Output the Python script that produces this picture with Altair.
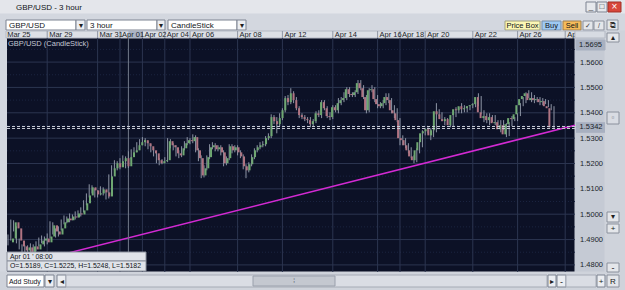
import altair as alt
import pandas as pd

symbol = "GBP/USD"
timeframe = "3 hour"
chart_type = "CandleStick"

opens = [
    1.4889, 1.4904, 1.4968, 1.4944, 1.4896, 1.4873, 1.4857, 1.4869, 1.4849, 1.4873,
    1.4861, 1.4881, 1.4896, 1.4904, 1.4889, 1.4912, 1.4956, 1.4932, 1.4920, 1.4944,
    1.4968, 1.4983, 1.4976, 1.4991, 1.4987, 1.5003, 1.4999, 1.5015, 1.5043, 1.5074,
    1.5106, 1.5094, 1.5078, 1.5082, 1.5098, 1.5086, 1.5070, 1.5149, 1.5181, 1.5201,
    1.5185, 1.5209, 1.5221, 1.5189, 1.5225, 1.5244, 1.5252, 1.5272, 1.5284, 1.5292,
    1.5280, 1.5268, 1.5252, 1.5240, 1.5213, 1.5201, 1.5209, 1.5213, 1.5288, 1.5272,
    1.5264, 1.5240, 1.5232, 1.5260, 1.5280, 1.5292, 1.5288, 1.5304, 1.5252, 1.5221,
    1.5153, 1.5181, 1.5225, 1.5264, 1.5272, 1.5256, 1.5264, 1.5244, 1.5201, 1.5221,
    1.5268, 1.5252, 1.5264, 1.5244, 1.5228, 1.5189, 1.5173, 1.5197, 1.5225, 1.5252,
    1.5264, 1.5272, 1.5276, 1.5300, 1.5308, 1.5383, 1.5367, 1.5355, 1.5379, 1.5410,
    1.5458, 1.5442, 1.5477, 1.5450, 1.5418, 1.5391, 1.5383, 1.5375, 1.5371, 1.5355,
    1.5367, 1.5398, 1.5391, 1.5442, 1.5418, 1.5387, 1.5383, 1.5422, 1.5410, 1.5438,
    1.5450, 1.5458, 1.5493, 1.5474, 1.5470, 1.5481, 1.5517, 1.5497, 1.5462, 1.5410,
    1.5489, 1.5493, 1.5454, 1.5434, 1.5426, 1.5438, 1.5462, 1.5450, 1.5410, 1.5398,
    1.5371, 1.5300, 1.5292, 1.5272, 1.5252, 1.5228, 1.5213, 1.5252, 1.5284, 1.5319,
    1.5327, 1.5335, 1.5311, 1.5331, 1.5406, 1.5394, 1.5375, 1.5367, 1.5375, 1.5351,
    1.5391, 1.5414, 1.5410, 1.5426, 1.5414, 1.5418, 1.5426, 1.5430, 1.5434, 1.5462,
    1.5402, 1.5379, 1.5387, 1.5371, 1.5383, 1.5359, 1.5363, 1.5335, 1.5351, 1.5315,
    1.5355, 1.5379, 1.5375, 1.5394, 1.5430, 1.5454, 1.5466, 1.5477, 1.5450, 1.5458,
    1.5450, 1.5454, 1.5442, 1.5446, 1.5426, 1.5418,
]
highs = [
    1.4920, 1.4979, 1.4976, 1.4952, 1.4904, 1.4881, 1.4877, 1.4877, 1.4885, 1.4881,
    1.4893, 1.4908, 1.4916, 1.4912, 1.4924, 1.4972, 1.4968, 1.4944, 1.4952, 1.4979,
    1.4995, 1.4991, 1.5003, 1.4999, 1.5011, 1.5015, 1.5027, 1.5055, 1.5082, 1.5118,
    1.5114, 1.5102, 1.5094, 1.5110, 1.5106, 1.5094, 1.5157, 1.5193, 1.5213, 1.5209,
    1.5221, 1.5232, 1.5228, 1.5248, 1.5256, 1.5264, 1.5284, 1.5296, 1.5304, 1.5300,
    1.5288, 1.5276, 1.5260, 1.5248, 1.5221, 1.5217, 1.5225, 1.5300, 1.5296, 1.5280,
    1.5272, 1.5252, 1.5268, 1.5288, 1.5304, 1.5300, 1.5315, 1.5311, 1.5260, 1.5232,
    1.5193, 1.5232, 1.5276, 1.5284, 1.5280, 1.5272, 1.5272, 1.5252, 1.5228, 1.5276,
    1.5276, 1.5272, 1.5272, 1.5252, 1.5236, 1.5197, 1.5205, 1.5236, 1.5260, 1.5272,
    1.5284, 1.5288, 1.5308, 1.5319, 1.5394, 1.5391, 1.5383, 1.5398, 1.5418, 1.5466,
    1.5470, 1.5497, 1.5485, 1.5462, 1.5426, 1.5398, 1.5391, 1.5383, 1.5383, 1.5375,
    1.5406, 1.5410, 1.5450, 1.5450, 1.5426, 1.5402, 1.5430, 1.5430, 1.5458, 1.5462,
    1.5481, 1.5501, 1.5501, 1.5481, 1.5489, 1.5529, 1.5529, 1.5509, 1.5470, 1.5497,
    1.5509, 1.5501, 1.5470, 1.5442, 1.5450, 1.5477, 1.5477, 1.5458, 1.5430, 1.5418,
    1.5379, 1.5311, 1.5300, 1.5280, 1.5264, 1.5232, 1.5260, 1.5292, 1.5331, 1.5339,
    1.5343, 1.5339, 1.5339, 1.5438, 1.5414, 1.5402, 1.5383, 1.5379, 1.5383, 1.5398,
    1.5422, 1.5422, 1.5438, 1.5430, 1.5426, 1.5430, 1.5438, 1.5442, 1.5477, 1.5466,
    1.5410, 1.5398, 1.5398, 1.5391, 1.5391, 1.5371, 1.5371, 1.5371, 1.5359, 1.5363,
    1.5387, 1.5383, 1.5398, 1.5438, 1.5462, 1.5481, 1.5489, 1.5481, 1.5470, 1.5462,
    1.5462, 1.5458, 1.5454, 1.5450, 1.5434, 1.5426,
]
lows = [
    1.4877, 1.4896, 1.4932, 1.4885, 1.4861, 1.4837, 1.4845, 1.4833, 1.4841, 1.4849,
    1.4853, 1.4873, 1.4885, 1.4873, 1.4881, 1.4904, 1.4920, 1.4908, 1.4912, 1.4936,
    1.4960, 1.4964, 1.4968, 1.4976, 1.4979, 1.4987, 1.4991, 1.5007, 1.5035, 1.5066,
    1.5082, 1.5066, 1.5066, 1.5074, 1.5074, 1.5058, 1.5062, 1.5142, 1.5173, 1.5173,
    1.5177, 1.5201, 1.5181, 1.5182, 1.5217, 1.5232, 1.5244, 1.5264, 1.5272, 1.5268,
    1.5256, 1.5244, 1.5228, 1.5201, 1.5193, 1.5197, 1.5201, 1.5205, 1.5260, 1.5252,
    1.5228, 1.5221, 1.5225, 1.5252, 1.5272, 1.5276, 1.5280, 1.5244, 1.5209, 1.5142,
    1.5145, 1.5173, 1.5217, 1.5256, 1.5248, 1.5248, 1.5232, 1.5189, 1.5193, 1.5213,
    1.5240, 1.5244, 1.5232, 1.5221, 1.5177, 1.5142, 1.5165, 1.5189, 1.5217, 1.5244,
    1.5256, 1.5264, 1.5268, 1.5292, 1.5300, 1.5355, 1.5319, 1.5347, 1.5371, 1.5402,
    1.5430, 1.5434, 1.5438, 1.5410, 1.5379, 1.5375, 1.5367, 1.5359, 1.5343, 1.5347,
    1.5359, 1.5383, 1.5379, 1.5410, 1.5379, 1.5371, 1.5375, 1.5402, 1.5398, 1.5430,
    1.5442, 1.5450, 1.5462, 1.5462, 1.5462, 1.5474, 1.5489, 1.5454, 1.5398, 1.5402,
    1.5481, 1.5442, 1.5418, 1.5418, 1.5418, 1.5430, 1.5438, 1.5398, 1.5379, 1.5363,
    1.5272, 1.5272, 1.5260, 1.5240, 1.5221, 1.5201, 1.5205, 1.5240, 1.5264, 1.5311,
    1.5319, 1.5292, 1.5304, 1.5323, 1.5387, 1.5367, 1.5351, 1.5359, 1.5343, 1.5347,
    1.5383, 1.5398, 1.5398, 1.5402, 1.5402, 1.5410, 1.5418, 1.5422, 1.5426, 1.5394,
    1.5363, 1.5359, 1.5351, 1.5363, 1.5351, 1.5343, 1.5323, 1.5331, 1.5304, 1.5308,
    1.5347, 1.5367, 1.5367, 1.5387, 1.5426, 1.5438, 1.5458, 1.5442, 1.5438, 1.5442,
    1.5430, 1.5430, 1.5434, 1.5422, 1.5410, 1.5335,
]
closes = [
    1.4904, 1.4968, 1.4944, 1.4896, 1.4873, 1.4857, 1.4869, 1.4849, 1.4873, 1.4861,
    1.4881, 1.4896, 1.4904, 1.4889, 1.4912, 1.4956, 1.4932, 1.4920, 1.4944, 1.4968,
    1.4983, 1.4976, 1.4991, 1.4987, 1.5003, 1.4999, 1.5015, 1.5043, 1.5074, 1.5106,
    1.5094, 1.5078, 1.5082, 1.5098, 1.5086, 1.5070, 1.5149, 1.5181, 1.5201, 1.5185,
    1.5209, 1.5221, 1.5189, 1.5225, 1.5244, 1.5252, 1.5272, 1.5284, 1.5292, 1.5280,
    1.5268, 1.5252, 1.5240, 1.5213, 1.5201, 1.5209, 1.5213, 1.5288, 1.5272, 1.5264,
    1.5240, 1.5232, 1.5260, 1.5280, 1.5292, 1.5288, 1.5304, 1.5252, 1.5221, 1.5153,
    1.5181, 1.5225, 1.5264, 1.5272, 1.5256, 1.5264, 1.5244, 1.5201, 1.5221, 1.5268,
    1.5252, 1.5264, 1.5244, 1.5228, 1.5189, 1.5173, 1.5197, 1.5225, 1.5252, 1.5264,
    1.5272, 1.5276, 1.5300, 1.5308, 1.5383, 1.5367, 1.5355, 1.5379, 1.5410, 1.5458,
    1.5442, 1.5477, 1.5450, 1.5418, 1.5391, 1.5383, 1.5375, 1.5371, 1.5355, 1.5367,
    1.5398, 1.5391, 1.5442, 1.5418, 1.5387, 1.5383, 1.5422, 1.5410, 1.5438, 1.5450,
    1.5458, 1.5493, 1.5474, 1.5470, 1.5481, 1.5517, 1.5497, 1.5462, 1.5410, 1.5489,
    1.5493, 1.5454, 1.5434, 1.5426, 1.5438, 1.5462, 1.5450, 1.5410, 1.5398, 1.5371,
    1.5300, 1.5292, 1.5272, 1.5252, 1.5228, 1.5213, 1.5252, 1.5284, 1.5319, 1.5327,
    1.5335, 1.5311, 1.5331, 1.5406, 1.5394, 1.5375, 1.5367, 1.5375, 1.5351, 1.5391,
    1.5414, 1.5410, 1.5426, 1.5414, 1.5418, 1.5426, 1.5430, 1.5434, 1.5462, 1.5402,
    1.5379, 1.5387, 1.5371, 1.5383, 1.5359, 1.5363, 1.5335, 1.5351, 1.5315, 1.5355,
    1.5379, 1.5375, 1.5394, 1.5430, 1.5454, 1.5466, 1.5477, 1.5450, 1.5458, 1.5450,
    1.5454, 1.5442, 1.5446, 1.5426, 1.5418, 1.5342,
]

date_labels = ["Mar 25", "Mar 29", "Mar 31", "Apr 01", "Apr 02", "Apr 04", "Apr 06", "Apr 08",
               "Apr 12", "Apr 14", "Apr 16", "Apr 18", "Apr 20", "Apr 22", "Apr 26", "Apr 28"]
date_bars = [-1.0, 14, 32, 40, 48, 56, 65, 82, 98, 116, 132, 140, 149, 166, 182, 199]
price_ticks = [1.48, 1.49, 1.50, 1.51, 1.52, 1.53, 1.54, 1.55, 1.56]
minor_ticks = [1.485, 1.495, 1.505, 1.515, 1.525, 1.535, 1.545, 1.555, 1.565]
top_price = 1.5695
bottom_price = 1.4772
trend_bars = [-0.36, 202.5]
trend_prices = [1.4786, 1.5351]
cursor_bar = 43
cursor_label = "Apr 01 ' 08:00"
cursor_day_end = 47.9

# ---------------- layout -----------------
PAD_L, PAD_T, PAD_R, PAD_B = 7, 38, 50, 18
W, H = 568, 234
FONT = "Liberation Sans"
xs = alt.Scale(domain=[-0.357, 202.5], nice=False, zero=False)
ys = alt.Scale(domain=[bottom_price, top_price], nice=False, zero=False)

# ---------------- chart data -------------
n = len(closes)
candles = pd.DataFrame({
    "k": list(range(n)), "open": opens, "high": highs, "low": lows, "close": closes,
    "dir": ["up" if c >= o else "down" for o, c in zip(opens, closes)],
})
dates = pd.DataFrame({"k": date_bars, "label": date_labels})
seps = dates.iloc[1:]
major = pd.DataFrame({"p": price_ticks})
minor = pd.DataFrame({"p": minor_ticks})
trend = pd.DataFrame({"k": trend_bars, "p": trend_prices})
cursor = pd.DataFrame({"k": [cursor_bar], "k2": [cursor_day_end]})
last = pd.DataFrame({"p": [closes[-1]], "lo": [closes[-1] - 0.0021], "hi": [closes[-1] + 0.0021],
                     "label": [f"{closes[-1]:.4f}"]})

X = lambda f: alt.X(f, type="quantitative", scale=xs, axis=None)
Y = lambda f: alt.Y(f, type="quantitative", scale=ys, axis=None)

# ---------------- chrome (window decoration, pixel layout) -------------
chrome_rects = [
    (0, 625, 0, 14, "#e4e6eb", "#e4e6eb"),
    (0, 625, 14, 31, "#d3d7df", "#d3d7df"),
    (6, 76, 20, 30, "#ffffff", "#7d8391"),
    (76, 85, 20, 30, "#eceef2", "#7d8391"),
    (87, 157, 20, 30, "#ffffff", "#7d8391"),
    (157, 165, 20, 30, "#eceef2", "#7d8391"),
    (168, 237, 20, 30, "#ffffff", "#7d8391"),
    (237, 246, 20, 30, "#eceef2", "#7d8391"),
    (505, 540, 21, 30, "#fcf7b4", "#a2a27e"),
    (542, 561, 21, 30, "#9ec9f3", "#7890a8"),
    (563, 581, 21, 30, "#f6bb5a", "#a08050"),
    (583, 593, 21, 30, "#e4e6ea", "#8a909c"),
    (594, 604, 21, 30, "#e4e6ea", "#8a909c"),
    (607, 618, 20, 30, "#e4e6ea", "#8a909c"),
    (586, 596, 2, 12, "#e6e8ec", "#7d8391"),
    (597, 607, 2, 12, "#e6e8ec", "#7d8391"),
    (608, 621, 2, 12, "#d8473b", "#a03028"),
    (6, 575, 31, 38, "#dde0e6", "#b4b9c4"),
    (575, 605, 38, 272, "#c5cad4", "#c5cad4"),
    (605, 625, 31, 290, "#cfd3db", "#cfd3db"),
    (607, 619, 33, 42, "#e4e6ea", "#8a909c"),
    (607, 619, 112, 124, "#d9dce3", "#8a909c"),
    (607, 619, 212, 222, "#e4e6ea", "#8a909c"),
    (607, 619, 224, 233, "#e4e6ea", "#8a909c"),
    (607, 619, 263, 272, "#e4e6ea", "#8a909c"),
    (607, 619, 275, 287, "#e4e6ea", "#8a909c"),
    (0, 605, 272, 290, "#cfd3db", "#cfd3db"),
    (7, 44, 275, 287, "#ffffff", "#7d8391"),
    (45, 54, 275, 287, "#eceef2", "#7d8391"),
    (57, 66, 275, 287, "#eceef2", "#7d8391"),
    (66, 547, 275, 287, "#dadde4", "#a6abb6"),
    (253, 335, 276, 286, "#c4c8d0", "#9aa0ac"),
    (548, 556, 275, 287, "#eceef2", "#7d8391"),
    (557, 566, 275, 287, "#eceef2", "#7d8391"),
    (566, 596, 275, 287, "#dadde4", "#a6abb6"),
    (597, 605, 275, 287, "#eceef2", "#7d8391"),
    (576, 605, 40, 50, "#a8b0c0", "#a8b0c0"),
]
overlay_rects = [
    (575, 605, 31, 38, "#d7dbe2", "#b4b9c4"),
    (7, 146, 252, 261, "#e0e3e9", "#8a909c"),
    (7, 146, 261, 271, "#e0e3e9", "#8a909c"),
]
ohlc_text = (f"O={opens[cursor_bar]:.4f}, C={closes[cursor_bar]:.4f}, "
             f"H={highs[cursor_bar]:.4f}, L={lows[cursor_bar]:.4f}")
texts_left = [
    (16, 7.5, f"{symbol} - {timeframe}", 8, "#101418"),
    (9, 25.5, symbol, 8, "#101418"),
    (90, 25.5, timeframe, 8, "#101418"),
    (171, 25.5, chart_type, 8, "#101418"),
    (9, 281.5, "Add Study", 6.9, "#101418"),
]
texts_center = [
    (522.5, 25.5, "Price Box", 7.5, "#101418"),
    (551.5, 25.5, "Buy", 7.5, "#101418"),
    (572, 25.5, "Sell", 7.5, "#101418"),
    (80.5, 25.5, "▾", 8, "#202020"),
    (161, 25.5, "▾", 8, "#202020"),
    (241.5, 25.5, "▾", 8, "#202020"),
    (49.5, 281.5, "▾", 8, "#202020"),
    (61.5, 281.5, "◂", 8, "#202020"),
    (552, 281.5, "▸", 8, "#202020"),
    (561.5, 281.5, "-", 9, "#202020"),
    (601, 281.5, "+", 8, "#202020"),
    (613, 281.5, "R", 8, "#202020"),
    (613, 37.5, "▴", 8, "#202020"),
    (613, 217, "▾", 8, "#202020"),
    (613, 228.5, "+", 8, "#202020"),
    (613, 267.5, "-", 9, "#202020"),
    (294, 281, "⁞", 8, "#707680"),
    (613, 118, "▫", 8, "#707680"),
    (591, 7, "_", 8, "#303030"),
    (602, 7, "□", 8, "#303030"),
    (614.5, 7, "×", 10, "#ffffff"),
    (588, 25.5, "✓", 7, "#404040"),
    (599, 25.5, "/", 7, "#404040"),
    (612.5, 25.5, "⧉", 8, "#303030"),
    (590.5, 45, f"{top_price:.4f}", 7.5, "#1b1f29"),
]
tip_texts = [
    (10, 256.5, cursor_label, 6.9, "#101418"),
    (10, 266, ohlc_text, 6.9, "#101418"),
]


def rect_df(rows):
    return pd.DataFrame([{"x": a - PAD_L, "x2": b - PAD_L, "y": c - PAD_T, "y2": d - PAD_T,
                          "fill": f, "stroke": s} for a, b, c, d, f, s in rows])


def text_df(rows):
    return pd.DataFrame([{"x": a - PAD_L, "y": b - PAD_T, "t": t, "fs": fs, "c": c}
                         for a, b, t, fs, c in rows])


def rect_layer(rows):
    return alt.Chart(rect_df(rows)).mark_rect(strokeWidth=1).encode(
        x=alt.X("x:Q", scale=None, axis=None), x2="x2:Q",
        y=alt.Y("y:Q", scale=None, axis=None), y2="y2:Q",
        fill=alt.Fill("fill:N", scale=None, legend=None),
        stroke=alt.Stroke("stroke:N", scale=None, legend=None),
    )


def text_layer(rows, align):
    return alt.Chart(text_df(rows)).mark_text(align=align, baseline="middle", font=FONT).encode(
        x=alt.X("x:Q", scale=None, axis=None),
        y=alt.Y("y:Q", scale=None, axis=None),
        text="t:N",
        size=alt.Size("fs:Q", scale=None, legend=None),
        color=alt.Color("c:N", scale=None, legend=None),
    )


chrome_bg = rect_layer(chrome_rects)
chrome_txt_l = text_layer(texts_left, "left")
chrome_txt_c = text_layer(texts_center, "center")
overlay = rect_layer(overlay_rects)
tip_txt = text_layer(tip_texts, "left")

# ---------------- plot layers -------------
grid_minor = alt.Chart(minor).mark_rule(color="#1b2440", strokeDash=[1, 2], strokeWidth=1).encode(y=Y("p"))
grid_major = alt.Chart(major).mark_rule(color="#2c3550", strokeWidth=1).encode(y=Y("p"))
grid_vert = alt.Chart(seps).mark_rule(color="#2c3550", strokeWidth=1).encode(x=X("k"))

day_hl = alt.Chart(cursor).mark_rect(color="#aab3c6").encode(
    x=X("k"), x2="k2", y=alt.value(-7), y2=alt.value(0))
sep_ticks = alt.Chart(seps).mark_rule(color="#9097a4").encode(
    x=X("k"), y=alt.value(-7), y2=alt.value(0))
date_txt = alt.Chart(dates).mark_text(align="left", baseline="middle", dx=2, font=FONT,
                                      fontSize=7.5, color="#1b1f29").encode(
    x=X("k"), y=alt.value(-3.3), text="label:N")

trend_line = alt.Chart(trend).mark_line(color="#d32ad3", strokeWidth=1.5).encode(x=X("k"), y=Y("p"))
cross = alt.Chart(cursor).mark_rule(color="#737a8a", strokeWidth=1).encode(x=X("k"))

wicks = alt.Chart(candles).mark_rule(color="#8f96a6", strokeWidth=1).encode(
    x=X("k"), y=Y("low"), y2="high")
bodies = alt.Chart(candles).mark_bar(size=2).encode(
    x=X("k"),
    y=alt.Y("open:Q", scale=ys, axis=alt.Axis(
        orient="right", values=price_ticks, format=".4f", labelFont=FONT, labelFontSize=7.5,
        labelColor="#1b1f29", ticks=False, tickSize=0, domain=False, grid=False,
        labelPadding=16, labelAlign="center", labelBaseline="middle", title=None,
        zindex=1, labelOverlap=False, labelFlush=False)),
    y2="close",
    color=alt.Color("dir:N", scale=alt.Scale(domain=["up", "down"], range=["#6fa872", "#b07482"]),
                    legend=None),
)

price_a = alt.Chart(last).mark_rule(color="#c9cdd8", strokeDash=[3, 2], strokeWidth=1, yOffset=-1).encode(y=Y("p"))
price_b = alt.Chart(last).mark_rule(color="#c9cdd8", strokeDash=[3, 2], strokeWidth=1, yOffset=1).encode(y=Y("p"))
price_box = alt.Chart(last).mark_rect(color="#a8b0c0").encode(
    x=alt.value(569), x2=alt.value(598), y=Y("hi"), y2="lo")
price_txt = alt.Chart(last).mark_text(align="center", baseline="middle", font=FONT, fontSize=7.5,
                                      color="#1b1f29").encode(
    x=alt.value(584), y=Y("p"), text="label:N")

series_txt = alt.Chart(pd.DataFrame({"t": [f"{symbol} ({chart_type})"]})).mark_text(
    align="left", baseline="middle", font=FONT, fontSize=7.5, color="#c3c7d3").encode(
    x=alt.value(1), y=alt.value(6), text="t:N")

chart = alt.layer(
    chrome_bg, chrome_txt_l, chrome_txt_c,
    grid_minor, grid_major, grid_vert,
    day_hl, sep_ticks, date_txt,
    trend_line, cross, wicks, bodies,
    price_a, price_b, price_box, price_txt, series_txt,
    overlay, tip_txt,
).resolve_scale(
    x="independent", y="independent", color="independent",
    fill="independent", stroke="independent", size="independent",
).properties(
    width=W, height=H,
    autosize=alt.AutoSizeParams(type="none"),
    padding={"left": PAD_L, "top": PAD_T, "right": PAD_R, "bottom": PAD_B},
    background="#d3d7df",
).configure_view(fill="#0c1126", stroke=None)

chart.save("out.html", embed_options={"renderer": "svg", "actions": False})
